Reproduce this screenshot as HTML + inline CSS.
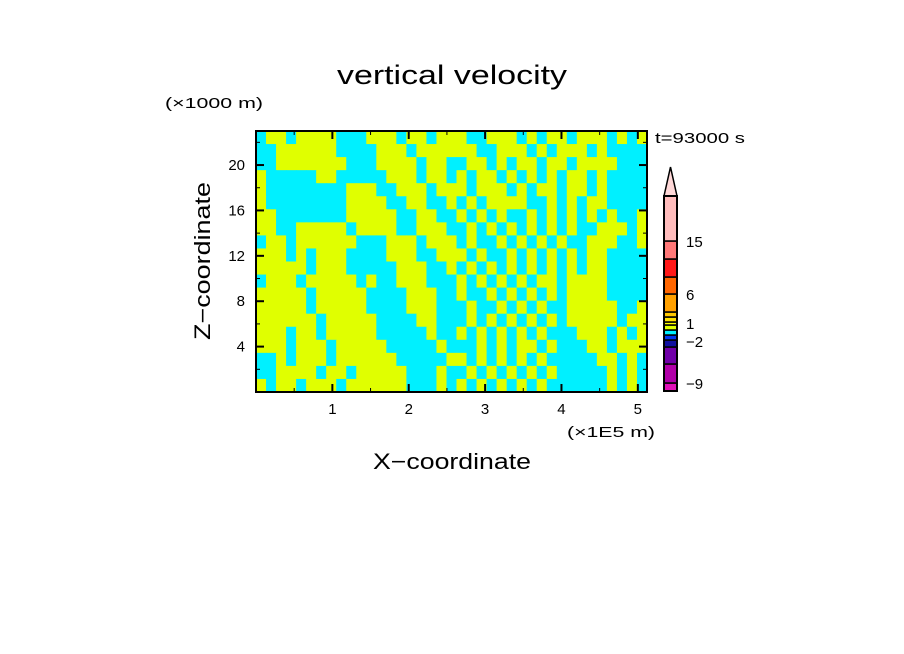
<!DOCTYPE html>
<html><head><meta charset="utf-8"><style>
html,body{margin:0;padding:0;background:#fff;width:904px;height:654px;overflow:hidden}
svg text{font-family:"Liberation Sans",sans-serif;fill:#000}
</style></head><body>
<svg id="chart" width="904" height="654" viewBox="0 0 904 654" xmlns="http://www.w3.org/2000/svg">
<text x="337" y="84" font-size="27" textLength="230" lengthAdjust="spacingAndGlyphs">vertical velocity</text>
<text x="165" y="108" font-size="15" textLength="98" lengthAdjust="spacingAndGlyphs">(×1000 m)</text>
<text x="655" y="143" font-size="15" textLength="90" lengthAdjust="spacingAndGlyphs">t=93000 s</text>
<text x="567" y="437" font-size="15" textLength="88" lengthAdjust="spacingAndGlyphs">(×1E5 m)</text>
<text x="373" y="469" font-size="22" textLength="158" lengthAdjust="spacingAndGlyphs">X−coordinate</text>
<text transform="translate(210,340) rotate(-90)" font-size="22" textLength="158" lengthAdjust="spacingAndGlyphs">Z−coordinate</text>
<g id="field"></g>
<g id="axes"></g>
<g id="cbar"></g>
</svg>
<script>
const xTicks=[1,2,3,4,5];
const yTicks=[4,8,12,16,20];
const fieldRows=[
"CYYCYYYYCCCYYYCYYCYY"+"YCCYYYCYCYYCYYYCYCY",
"CCYYYYYYCCCCYYYCYYYY"+"YYCCYYYCYCYYYCYCCCC",
"CCYYYYYYYCCCYYYYCYYC"+"CYYCYCYYCYYCYYYYCCC",
"YCCCCCYYCCCCCYYYCYYC"+"YCYYCYCYCYCYYCYCCCC",
"YCCCCCCCCYYYCCYYYCYY"+"YCYYYCYCYYCYYCYCCCC",
"YCCCCCCCCYYYYCCYYCCY"+"CYCYYYYCCYCYCYYCCCC",
"YYCCCCCCCYYYYYCCYYCC"+"YCYCYCCYCYCYCYCYCCY",
"YYCCYYYYYCYYYYCCYYYC"+"CYCYCYCYCYCYCCYYYCY",
"CYYCYYYYYYCCCYYYCYYY"+"CYCCYCYCYCYCCYYYCCY",
"YYYCYCYYYCCCCYYYCCYY"+"YCYCCYCYCYCYCYYCCCC",
"YYYYYCYYYCCCCCYYYCCY"+"CYCYCYCYCYCYCYYCCCC",
"CYYYCYYYYYCYCCYYYCCC"+"YCYCYCYCYYCYYYYCCCC",
"YYYYYCYYYYYCCCCYYYCC"+"YCCYCYCYCYCYYYYCCCC",
"YYYYYCYYYYYCCCCYYYCC"+"CYCCYCYCYCCYYYYYCCY",
"YYYYYYCYYYYYCCCCYYCC"+"CYCYCYCYCYCYYYYYCYY",
"YYYCYYCYYYYYCCCCCYCC"+"YCYCYCYCYCCCYYYCYCY",
"YYYCYYYCYYYYYCCCCCYC"+"CCYCYCYYCYCCCYYCYYY",
"CCYCYYYCYYYYYYCCCCCY"+"YCYCYCYCYCCCCCYYCYC",
"CCYYYYCYYCYYYYYCCCYC"+"CYCYCYCYCYCCCCCYCYC",
"YCYYCYYYCYYYYYYCCCYC"+"YCYCYCYCYCCCCCCYCYC"
];
const cbColors=["#e010b8","#b000a8","#7000a8","#1010a0","#0038f0","#00f0ff","#e0ff00","#ffff00","#ffe000","#ffc800","#ffa000","#ff6600","#ff1818","#ff7878","#ffbcbc"];
const cbLabels=[-9,-2,1,6,15];
const cbLabelY=[383,341,323,294,241];

const NS="http://www.w3.org/2000/svg";
const L=256,R=647,T=131,B=392;
const xmin=0,xmax=5.12,ymin=0,ymax=23;
const sx=v=>L+(v-xmin)/(xmax-xmin)*(R-L);
const sy=v=>B-(v-ymin)/(ymax-ymin)*(B-T);
function mk(tag,attrs,parent){const e=document.createElementNS(NS,tag);for(const k in attrs)e.setAttribute(k,attrs[k]);parent.appendChild(e);return e;}

const field=document.getElementById('field');
const nr=fieldRows.length,nc=fieldRows[0].length;
const cw=(R-L)/nc,ch=(B-T)/nr;
for(let r=0;r<nr;r++){for(let c=0;c<nc;c++){
  const rc=mk('rect',{x:(L+c*cw).toFixed(2),y:(T+r*ch).toFixed(2),width:(cw+0.6).toFixed(2),height:(ch+0.6).toFixed(2),fill:fieldRows[r][c]==='Y'?'#e0ff00':'#00f0ff'},field);
  
  
}}

const axes=document.getElementById('axes');
const fr=mk('rect',{x:L,y:T,width:R-L,height:B-T,fill:'none',stroke:'#000','stroke-width':2},axes);


xTicks.forEach(v=>{
  const x=sx(v);
  mk('line',{x1:x,y1:B,x2:x,y2:B-8,stroke:'#000','stroke-width':2},axes);
  mk('line',{x1:x,y1:T,x2:x,y2:T+8,stroke:'#000','stroke-width':2},axes);
  const t=mk('text',{x:x,y:B+22,'font-size':15,'text-anchor':'middle'},axes);t.textContent=v;
  
  
});
for(let v=0.5;v<xmax;v+=1){const x=sx(v);mk('line',{x1:x,y1:B,x2:x,y2:B-4,stroke:'#000','stroke-width':1},axes);mk('line',{x1:x,y1:T,x2:x,y2:T+4,stroke:'#000','stroke-width':1},axes);}
yTicks.forEach(v=>{
  const y=sy(v);
  mk('line',{x1:L,y1:y,x2:L+8,y2:y,stroke:'#000','stroke-width':2},axes);
  mk('line',{x1:R,y1:y,x2:R-8,y2:y,stroke:'#000','stroke-width':2},axes);
  const t=mk('text',{x:L-11,y:y+5,'font-size':15,'text-anchor':'end'},axes);t.textContent=v;
  
  
});
for(let v=2;v<ymax;v+=4){const y=sy(v);mk('line',{x1:L,y1:y,x2:L+4,y2:y,stroke:'#000','stroke-width':1},axes);mk('line',{x1:R,y1:y,x2:R-4,y2:y,stroke:'#000','stroke-width':1},axes);}

const cb=document.getElementById('cbar');
const cL=664,cR=677,cT=196,cB=391;
const ly=[391,383,364,347,340,335,330,325,322,317,312,294,277,259,241,196];
for(let i=0;i<cbColors.length;i++){
  const r=mk('rect',{x:cL,y:ly[i+1],width:cR-cL,height:ly[i]-ly[i+1],fill:cbColors[i],stroke:'#000','stroke-width':1.5},cb);
  
  
}
const tri=mk('polygon',{points:`${cL},${cT} ${cR},${cT} ${(cL+cR)/2},167`,fill:'#ffd8d8',stroke:'#000','stroke-width':1.5},cb);


const cf=mk('rect',{x:cL,y:cT,width:cR-cL,height:cB-cT,fill:'none',stroke:'#000','stroke-width':2},cb);


cbLabels.forEach((v,i)=>{
  const t=mk('text',{x:686,y:cbLabelY[i]+6,'font-size':15},cb);
  t.textContent=v<0?'−'+Math.abs(v):String(v);
  
  
});
</script>
</body></html>
